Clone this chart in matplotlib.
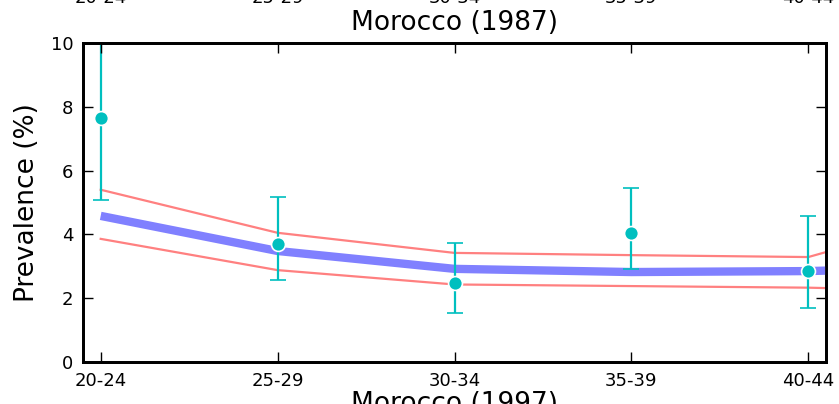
import numpy as np
import matplotlib
matplotlib.use("Agg")
import matplotlib.pyplot as plt

age_groups = ["20-24", "25-29", "30-34", "35-39", "40-44"]

# observed prevalence with error bars
obs_value = [7.66, 3.70, 2.48, 4.04, 2.85]
obs_lower = [5.08, 2.57, 1.54, 2.92, 1.69]
obs_upper = [10.6, 5.17, 3.73, 5.45, 4.58]

# model fit and uncertainty band (last point lies past the right edge)
fit_x = [0, 1, 2, 3, 4, 5]
fit_mean = [4.58, 3.48, 2.92, 2.82, 2.85, 3.0]
fit_upper = [5.40, 4.05, 3.42, 3.35, 3.29, 4.85]
fit_lower = [3.86, 2.88, 2.43, 2.38, 2.33, 2.2]

fig = plt.figure(figsize=(8.39, 4.04), dpi=100)
ax = fig.add_axes([83 / 839, 42 / 404, 743 / 839, 319 / 404])

ax.plot(fit_x, fit_upper, color="#ff8080", lw=1.6, zorder=2)
ax.plot(fit_x, fit_lower, color="#ff8080", lw=1.6, zorder=2)
ax.plot(fit_x, fit_mean, color="#8080ff", lw=6, solid_capstyle="butt", zorder=3)

x = np.arange(len(age_groups))
yerr = [np.array(obs_value) - np.array(obs_lower),
        np.array(obs_upper) - np.array(obs_value)]
ax.errorbar(x, obs_value, yerr=yerr, fmt="o", color="#00bfbf", ecolor="#00bfbf",
            mec="w", mew=1.2, ms=10, elinewidth=1.6, capsize=6, capthick=1.3, zorder=4)

ax.set_xlim(-0.1, 4.1)
ax.set_ylim(0, 10)
ax.set_yticks([0, 2, 4, 6, 8, 10])
ax.set_xticks(x)
ax.set_xticklabels(age_groups)
ax.tick_params(direction="in", length=7, width=1, labelsize=13, pad=7,
               right=True, top=False)
ax.set_ylabel("Prevalence (%)", fontsize=19, labelpad=8)
ax.set_xlabel("Morocco (1997)", fontsize=19, labelpad=1)
for sp in ax.spines.values():
    sp.set_linewidth(2)

ax2 = ax.twiny()
ax2.set_xlim(ax.get_xlim())
ax2.set_xticks(x)
ax2.set_xticklabels(age_groups)
ax2.tick_params(direction="in", length=7, width=1, labelsize=13, pad=26)
ax2.set_title("Morocco (1987)", fontsize=19, y=1.0, pad=9)
for sp in ax2.spines.values():
    sp.set_linewidth(2)

fig.savefig("out.png", dpi=100)
